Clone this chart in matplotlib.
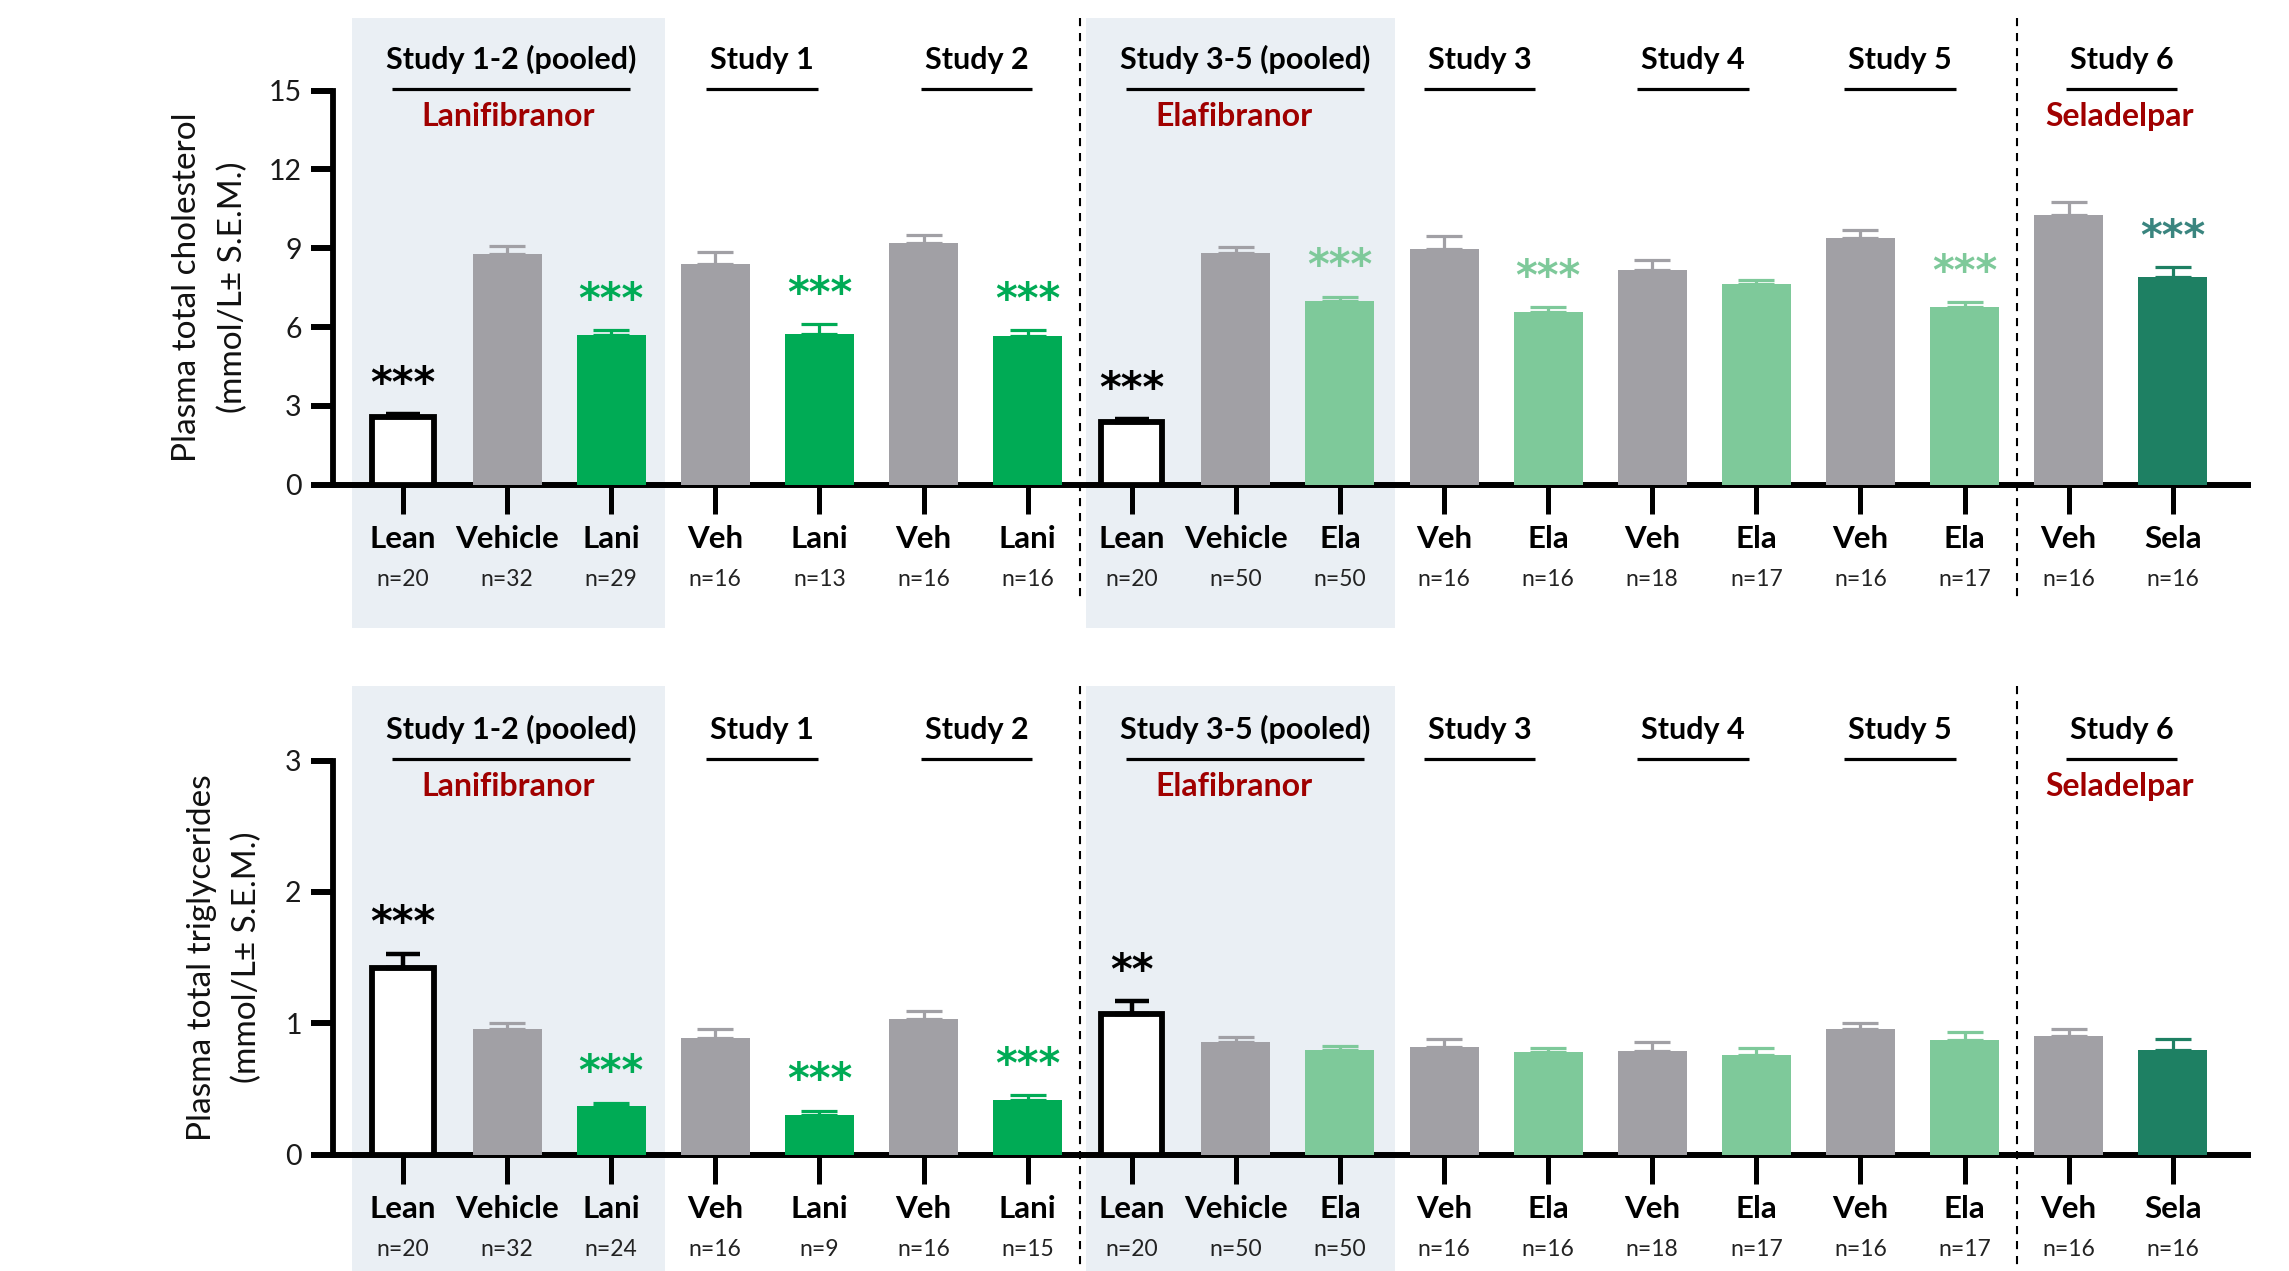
import matplotlib
matplotlib.use("Agg")
import matplotlib.pyplot as plt
import matplotlib.transforms as mtransforms
from matplotlib.patches import Rectangle

plt.rcParams['font.family'] = ['Lato', 'DejaVu Sans']

# ---- data -------------------------------------------------------------
categories = ["Lean", "Vehicle", "Lani", "Veh", "Lani", "Veh", "Lani",
              "Lean", "Vehicle", "Ela", "Veh", "Ela", "Veh", "Ela", "Veh", "Ela",
              "Veh", "Sela"]
roles = ["lean", "veh", "lani", "veh", "lani", "veh", "lani",
         "lean", "veh", "ela", "veh", "ela", "veh", "ela", "veh", "ela",
         "veh", "sela"]

chol_n = [20, 32, 29, 16, 13, 16, 16, 20, 50, 50, 16, 16, 18, 17, 16, 17, 16, 16]
chol_mean = [2.57, 8.77, 5.69, 8.39, 5.72, 9.20, 5.67,
             2.40, 8.80, 6.99, 8.96, 6.58, 8.16, 7.62, 9.39, 6.75,
             10.26, 7.89]
chol_sem = [0.12, 0.31, 0.19, 0.47, 0.38, 0.32, 0.22,
            0.09, 0.25, 0.16, 0.49, 0.18, 0.40, 0.17, 0.30, 0.19,
            0.48, 0.39]
chol_sig = ["***", "", "***", "", "***", "", "***",
            "***", "", "***", "", "***", "", "", "", "***",
            "", "***"]

tg_n = [20, 32, 24, 16, 9, 16, 15, 20, 50, 50, 16, 16, 18, 17, 16, 17, 16, 16]
tg_mean = [1.42, 0.96, 0.37, 0.89, 0.30, 1.03, 0.42,
           1.07, 0.86, 0.80, 0.82, 0.78, 0.79, 0.76, 0.96, 0.87,
           0.90, 0.80]
tg_sem = [0.11, 0.045, 0.025, 0.07, 0.035, 0.065, 0.035,
          0.10, 0.035, 0.03, 0.06, 0.03, 0.07, 0.05, 0.045, 0.06,
          0.06, 0.08]
tg_sig = ["***", "", "***", "", "***", "", "***",
          "**", "", "", "", "", "", "", "", "",
          "", ""]

study_titles = ["Study 1-2 (pooled)", "Study 1", "Study 2", "Study 3-5 (pooled)",
                "Study 3", "Study 4", "Study 5", "Study 6"]
drug_names = ["Lanifibranor", "Elafibranor", "Seladelpar"]

# ---- layout / style ---------------------------------------------------
title_x = [1.04, 3.45, 5.51, 8.09, 10.34, 12.39, 14.38, 16.51]
title_w = [2.29, 1.07, 1.07, 2.29, 1.07, 1.07, 1.07, 1.07]
drug_x = [1.01, 7.98, 16.49]
shade_spans = [(-0.49, 2.52), (6.56, 9.53)]
divider_x = [6.5, 15.5]

GRAY = "#A1A0A5"
LANI = "#00AB55"
ELA = "#7EC99A"
SELA = "#1E8063"
RED = "#A00000"
SHADE = "#EAEFF4"
bar_color = {"veh": GRAY, "lani": LANI, "ela": ELA, "sela": SELA}
star_color = {"lean": "black", "lani": LANI, "ela": ELA, "sela": "#3A857F"}

W, H = 2289, 1271
fig = plt.figure(figsize=(W / 100, H / 100), dpi=100)

ax_left = 333 / W
ax_width = (2248 - 333) / W
ax_height = 394.2 / H
ax_top = fig.add_axes([ax_left, 1 - 484.7 / H, ax_width, ax_height])
ax_bot = fig.add_axes([ax_left, 1 - 1154.7 / H, ax_width, ax_height])


def draw_panel(ax, means, sems, ns, sigs, ymax, yticks, ylabel_lines, ylabel_x,
               shade_y, divider_y):
    ax.set_facecolor("none")
    ax.set_xlim(-0.6724, 17.723)
    ax.set_ylim(0, ymax)
    blend = mtransforms.blended_transform_factory(ax.transData, ax.transAxes)

    # shaded pooled-study blocks
    for (x0, x1) in shade_spans:
        ax.add_patch(Rectangle((x0, shade_y[1]), x1 - x0, shade_y[0] - shade_y[1],
                               transform=blend, facecolor=SHADE, edgecolor="none",
                               clip_on=False, zorder=0))
    # dashed dividers between drugs
    for xd in divider_x:
        ax.plot([xd, xd], [divider_y[0], divider_y[1]], transform=blend,
                color="black", lw=1.5, linestyle=(0, (3.9, 3.3)),
                clip_on=False, zorder=1)

    for i, (m, s, role) in enumerate(zip(means, sems, roles)):
        if role == "lean":
            ax.bar(i, m, width=0.59, facecolor="white", edgecolor="black",
                   linewidth=4.2, zorder=3)
            ax.errorbar(i, m, yerr=[[0], [s]], fmt="none", ecolor="black",
                        elinewidth=3.2, capsize=12, capthick=3.2, zorder=4)
        else:
            c = bar_color[role]
            ax.bar(i, m, width=0.663, color=c, linewidth=0, zorder=3)
            ax.errorbar(i, m, yerr=[[0], [s]], fmt="none", ecolor=c,
                        elinewidth=2.3, capsize=13, capthick=2.3, zorder=4)
        if sigs[i]:
            ax.annotate(sigs[i], xy=(i, m + s), xytext=(0, 12.5),
                        textcoords="offset points", ha="center", va="baseline",
                        fontsize=30, fontweight="bold", color=star_color[role],
                        family="DejaVu Sans", zorder=5)

    # axes styling
    for side in ("top", "right"):
        ax.spines[side].set_visible(False)
    ax.spines["left"].set_linewidth(4.2)
    ax.spines["left"].set_bounds(0, ymax)
    ax.spines["bottom"].set_linewidth(4.3)
    ax.set_xticks(range(len(categories)))
    ax.set_xticklabels([])
    ax.tick_params(axis="x", length=21, width=3.6, direction="out", color="black")
    ax.set_yticks(yticks)
    ax.set_yticklabels([str(t) for t in yticks])
    ax.tick_params(axis="y", length=16, width=4.3, pad=6.5, labelsize=20.5,
                   labelcolor="#1a1a1a")

    # category and group size labels under each bar
    for i, (cat, n) in enumerate(zip(categories, ns)):
        ax.annotate(cat, xy=(i, 0), xytext=(0, -45.6), textcoords="offset points",
                    ha="center", va="baseline", fontsize=22.5, fontweight="bold",
                    color="black", annotation_clip=False)
        ax.annotate(f"n={n}", xy=(i, 0), xytext=(0, -72.9), textcoords="offset points",
                    ha="center", va="baseline", fontsize=16.5, color="#222222",
                    annotation_clip=False)

    # study headers with underline
    for t, x, w in zip(study_titles, title_x, title_w):
        ax.annotate(t, xy=(x, 1), xycoords=blend, xytext=(0, 15.5),
                    textcoords="offset points", ha="center", va="baseline",
                    fontsize=22, fontweight="bold", color="black",
                    annotation_clip=False)
        ax.plot([x - w / 2, x + w / 2], [1.004, 1.004], transform=blend,
                color="black", lw=2.3, clip_on=False, solid_capstyle="butt")
    for d, x in zip(drug_names, drug_x):
        ax.annotate(d, xy=(x, 1), xycoords=blend, xytext=(0, -25.6),
                    textcoords="offset points", ha="center", va="baseline",
                    fontsize=23, fontweight="bold", color=RED,
                    annotation_clip=False)

    # two-line y label
    for line, lx in zip(ylabel_lines, ylabel_x):
        ax.text(lx, 0.5, line, transform=ax.transAxes, rotation=90,
                rotation_mode="anchor", ha="center", va="baseline",
                fontsize=24, color="#111111")


draw_panel(ax_top, chol_mean, chol_sem, chol_n, chol_sig, 15, [0, 3, 6, 9, 12, 15],
           ["Plasma total cholesterol", "(mmol/L\u00b1 S.E.M.)"], [-0.0715, -0.0475],
           shade_y=(1.185, -0.3635), divider_y=(1.185, -0.289))
draw_panel(ax_bot, tg_mean, tg_sem, tg_n, tg_sig, 3, [0, 1, 2, 3],
           ["Plasma total triglycerides", "(mmol/L\u00b1 S.E.M.)"], [-0.0637, -0.0402],
           shade_y=(1.19, -0.30), divider_y=(1.189, -0.30))

fig.savefig("out.png", dpi=100, facecolor="white")
